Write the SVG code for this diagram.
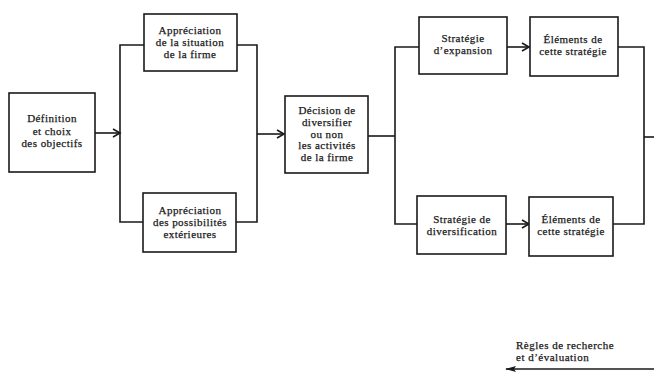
<svg xmlns="http://www.w3.org/2000/svg" width="654" height="372" viewBox="0 0 654 372">
<style>
.box{fill:#fff;stroke:#1a1a1a;stroke-width:1.6}
.ln{fill:none;stroke:#1a1a1a;stroke-width:1.6}
text{font-family:"Liberation Serif","Times New Roman",serif;font-size:11px;letter-spacing:0.45px;fill:#1a1a1a;stroke:#1a1a1a;stroke-width:0.25;text-anchor:middle}
.sm{font-size:11px;letter-spacing:0.5px;text-anchor:start}
</style>
<defs>
<marker id="ah" markerWidth="10" markerHeight="10" refX="8" refY="5" orient="auto" markerUnits="userSpaceOnUse">
<path d="M1,1 L8,5 L1,9" fill="none" stroke="#1a1a1a" stroke-width="1.6"/>
</marker>
<marker id="ahf" markerWidth="12" markerHeight="8" refX="10" refY="4" orient="auto" markerUnits="userSpaceOnUse">
<path d="M11,4 L0,1 L2,4 L0,7 Z" fill="#1a1a1a"/>
</marker>
</defs>
<g id="connectors">
<path class="ln" d="M95,133 H120" marker-end="url(#ah)"/>
<path class="ln" d="M144,45 H120 V222 H143"/>
<path class="ln" d="M237,45 H257 V222 H236"/>
<path class="ln" d="M257,134 H284" marker-end="url(#ah)"/>
<path class="ln" d="M368,136 H395"/>
<path class="ln" d="M419,47 H395 V224 H417"/>
<path class="ln" d="M507,47 H529" marker-end="url(#ah)"/>
<path class="ln" d="M506,224 H529" marker-end="url(#ah)"/>
<path class="ln" d="M618,47 H644 V224 H613"/>
<path class="ln" d="M644,137 H654"/>
<path class="ln" d="M654,369 H506" marker-end="url(#ahf)"/>
</g>
<g id="n1"><rect class="box" x="9" y="93" width="86" height="79"/>
<text x="52" y="122">Définition</text><text x="52" y="134.5">et choix</text><text x="52" y="147">des objectifs</text></g>
<g id="n2"><rect class="box" x="144" y="14" width="93" height="57"/>
<text x="190" y="33.5">Appréciation</text><text x="190" y="45.5">de la situation</text><text x="190" y="57.5">de la firme</text></g>
<g id="n3"><rect class="box" x="143" y="193" width="93" height="59"/>
<text x="190" y="214">Appréciation</text><text x="190" y="226">des possibilités</text><text x="190" y="238">extérieures</text></g>
<g id="n4"><rect class="box" x="285" y="96" width="83" height="77"/>
<text x="327" y="114">Décision de</text><text x="327" y="126">diversifier</text><text x="327" y="137.5">ou non</text><text x="327" y="149">les activités</text><text x="327" y="160.5">de la firme</text></g>
<g id="n5"><rect class="box" x="419" y="17" width="88" height="57"/>
<text x="463" y="42">Stratégie</text><text x="463" y="54">d’expansion</text></g>
<g id="n6"><rect class="box" x="530" y="17" width="88" height="59"/>
<text x="573" y="43">Éléments de</text><text x="573" y="55">cette stratégie</text></g>
<g id="n7"><rect class="box" x="417" y="196" width="89" height="58"/>
<text x="462" y="223">Stratégie de</text><text x="462" y="235">diversification</text></g>
<g id="n8"><rect class="box" x="529" y="197" width="84" height="59"/>
<text x="571" y="223">Éléments de</text><text x="571" y="235">cette stratégie</text></g>
<g id="note">
<text class="sm" x="516" y="349">Règles de recherche</text>
<text class="sm" x="516" y="361">et d’évaluation</text>
</g>
</svg>
